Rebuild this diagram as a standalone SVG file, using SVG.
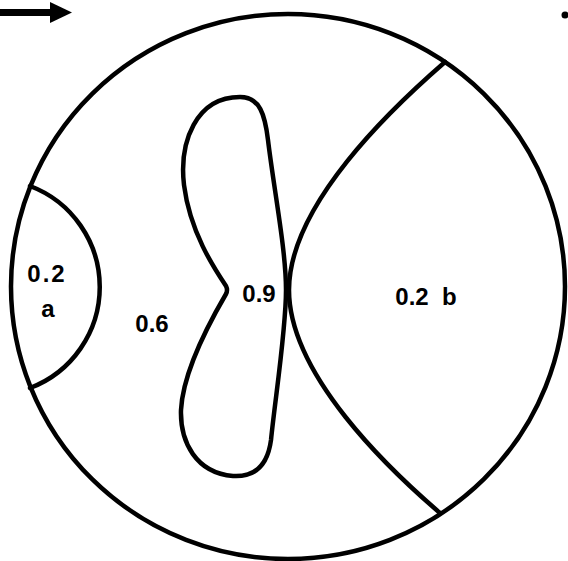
<svg xmlns="http://www.w3.org/2000/svg" width="568" height="561" viewBox="0 0 568 561">
<style>
.ln{fill:none;stroke:#000;stroke-width:4.5;stroke-linejoin:round;stroke-linecap:round}
.lb{font-family:"Liberation Sans",Arial,Helvetica,sans-serif;font-weight:bold;font-size:24px;fill:#000;text-anchor:middle}
</style>
<rect width="568" height="561" fill="#fff"/>
<g id="connectors">
<path d="M0 12.5 H52" stroke="#000" stroke-width="7" fill="none"/>
<polygon points="50,2 72,12.5 50,23" fill="#000"/>
</g>
<g id="outer-circle">
<ellipse class="ln" cx="288" cy="286.5" rx="277" ry="272.5"/>
</g>
<g id="region-a">
<path class="ln" d="M30 186 A108 108 0 0 1 30 388"/>
<text class="lb" x="47" y="282" letter-spacing="2">0.2</text>
<text class="lb" x="48" y="317">a</text>
</g>
<g id="region-0.6">
<text class="lb" x="152" y="332">0.6</text>
</g>
<g id="peanut">
<path class="ln" d="M226 286 C214 268 190 232 184 185 C179 142 196 97 240 97 C260 97 265 115 268 140 C274 190 286 250 286 290 C286 330 275 400 271 440 C267 470 250 477 233 476 C196 473 180 442 181 410 C183 370 212 318 226 294 Q228 290 226 286 Z"/>
<text class="lb" x="259" y="302">0.9</text>
</g>
<g id="region-b">
<path class="ln" d="M445 62 C392 108 289 205 289 290 C289 375 390 470 440 513"/>
<text class="lb" x="426" y="305" xml:space="preserve">0.2  b</text>
</g>
<circle cx="565" cy="15" r="3.5" fill="#000"/>
</svg>
